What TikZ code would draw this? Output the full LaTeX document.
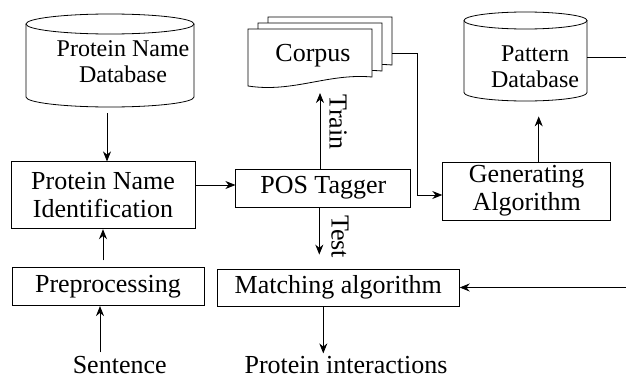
\documentclass[tikz,border=0pt]{standalone}
\usepackage{fontspec}
\setmainfont{Liberation Serif}
\usetikzlibrary{arrows.meta}

\tikzset{
  box/.style={draw, inner sep=0pt, align=center},
  area/.style={inner sep=0pt},
  lbl/.style={inner sep=0pt, align=center},
  dblbl/.style={inner sep=0pt, align=center, font=\fontsize{24}{26}\selectfont},
  doc/.style={draw, fill=white},
}

\begin{document}
\begin{tikzpicture}[x=1pt, y=-1pt, line width=0.8pt, >={Stealth[length=10pt,width=8pt]},
    font=\fontsize{26}{28}\selectfont]
    \useasboundingbox (0,0) rectangle (626,380);

    % Protein name database (cylinder)
    \node[area, minimum width=168pt, minimum height=93pt] (pndb) at (110,60.5) {};
    \draw (110,24) ellipse [x radius=84pt, y radius=10pt];
    \draw (26,24) -- (26,97) arc[start angle=180, end angle=360, x radius=84pt, y radius=10pt] -- (194,24);
    \node[dblbl] (pndbtext) at (123,61.4) {Protein Name\\Database};

    % Pattern database (cylinder)
    \node[area, minimum width=123pt, minimum height=89pt] (patdb) at (525.5,56.5) {};
    \draw (525.5,20.5) ellipse [x radius=61.5pt, y radius=8.5pt];
    \draw (464,20.5) -- (464,92.5) arc[start angle=180, end angle=360, x radius=61.5pt, y radius=8.5pt] -- (587,20.5);
    \node[dblbl] (patdbtext) at (535,66.4) {Pattern\\Database};

    % Corpus (three stacked documents)
    \foreach \dx/\dy in {20/-12, 10/-6, 0/0} {
        \begin{scope}[shift={(248+\dx,29+\dy)}]
            \draw[doc] (0,0) -- (124,0) -- (124,48) .. controls (80,44) and (45,64) .. (0,57) -- cycle;
        \end{scope}
    }
    \node[lbl, anchor=base] (corpus) at (313,61) {Corpus};
    \coordinate (corpusout) at (392,53);
    \coordinate (corpusin) at (320,93);

    % Processing steps
    \node[box, minimum width=184pt, minimum height=67pt] (pni) at (103,195.3) {Protein Name\\Identification};
    \node[box, minimum width=192pt, minimum height=38pt] (pre) at (108,286.7) {Preprocessing};
    \node[box, minimum width=175pt, minimum height=38pt] (pos) at (323.3,188) {POS Tagger};
    \node[box, minimum width=242pt, minimum height=37pt] (match) at (338.3,287.5) {Matching algorithm};
    \node[box, minimum width=168pt, minimum height=58pt] (gen) at (526.7,191) {Generating\\Algorithm};

    % Input and output
    \node[lbl, anchor=base] (sent) at (119.7,373) {Sentence};
    \node[lbl, anchor=base] (out) at (346,373) {Protein interactions};
    \coordinate (edge) at (626,0);

    % Connections
    \draw[->, shorten <=6pt] ([xshift=-3pt]pndb.south) -- ([xshift=-3pt]pndb.south |- pni.north);
    \draw[->] ([yshift=3pt]pni.east |- pos.west) -- ([yshift=3pt]pos.west);
    \draw[->, shorten <=7pt] (pni.south |- pre.north) -- (pni.south);
    \draw[->, shorten <=3pt] ([xshift=-8pt]pre.south |- sent.north) -- ([xshift=-8pt]pre.south);
    \draw[->] (pos.north -| corpusin) -- (corpusin);
    \node[lbl, rotate=-90] (train) at (338,122) {Train};
    \draw[->, shorten >=14pt] ([xshift=-4pt]pos.south) -- ([xshift=-4pt]pos.south |- match.north);
    \node[lbl, rotate=-90] (test) at (340,236.5) {Test};
    \draw[->, shorten >=2pt] ([xshift=-15pt]match.south) -- ([xshift=-15pt]match.south |- out.north);
    \draw[->] (corpusout) -- ++(25,0) |- ([yshift=-4pt]gen.west);
    \draw[->, shorten >=15pt] ([xshift=12pt]gen.north) -- ([xshift=12pt]gen.north |- patdb.south);
    \draw ([yshift=-1pt]patdb.east) -- ([yshift=-1pt]patdb.east -| edge);
    \draw[->] (match.east -| edge) -- (match.east);
\end{tikzpicture}
\end{document}
